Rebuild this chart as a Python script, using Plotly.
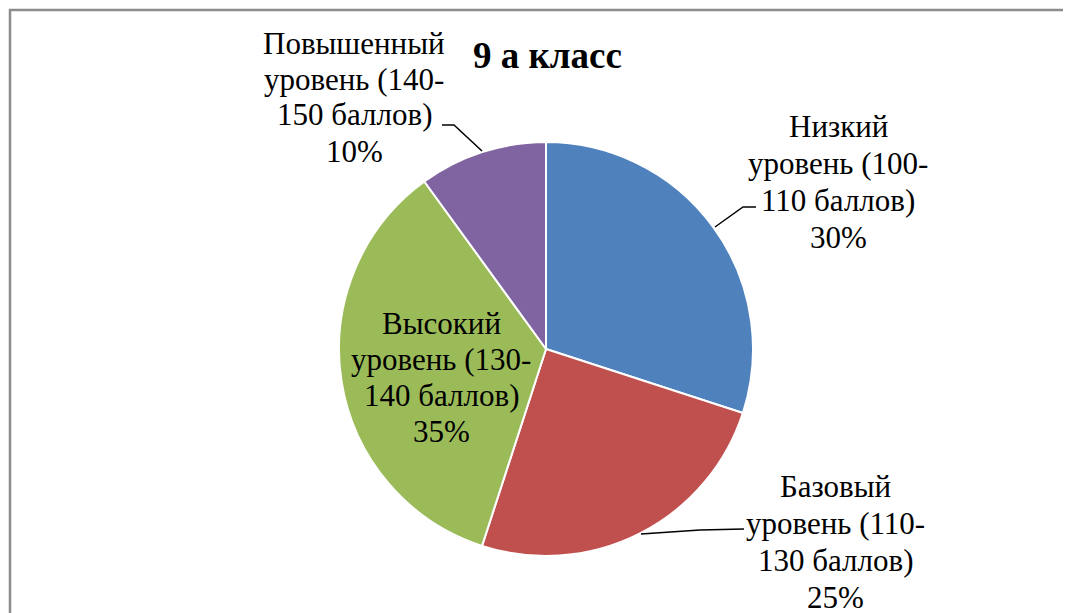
import plotly.graph_objects as go

# ---- data ----
categories = [
    "Низкий уровень (100-110 баллов)",
    "Базовый уровень (110-130 баллов)",
    "Высокий уровень (130-140 баллов)",
    "Повышенный уровень (140-150 баллов)",
]
values = [30, 25, 35, 10]
label_lines = [
    ["Низкий", "уровень (100-", "110 баллов)", "30%"],
    ["Базовый", "уровень (110-", "130 баллов)", "25%"],
    ["Высокий", "уровень (130-", "140 баллов)", "35%"],
    ["Повышенный", "уровень (140-", "150 баллов)", "10%"],
]
title_text = "9 а класс"
colors = ["#4F81BD", "#C0504D", "#9BBB59", "#8064A2"]

# ---- layout constants (screen pixels; page body has an 8px margin) ----
W, H = 1071, 613
OFF = 8
cx, cy, r = 546, 349, 207
label_pos = [(838, 126, 37.3), (835, 486, 37.0), (441, 323, 36.3), (354, 43, 36.0)]
leaders = [
    [(715, 227), (743, 207), (756, 207)],
    [(641, 534), (700, 530), (744, 529)],
    None,
    [(482, 151), (454, 125), (442, 125)],
]

def px(x):
    return (x - OFF) / W

def py(y):
    return 1 - (y - OFF) / H

fig = go.Figure()
fig.add_trace(go.Pie(
    labels=categories,
    values=values,
    sort=False,
    direction="clockwise",
    rotation=0,
    marker=dict(colors=colors, line=dict(color="white", width=2)),
    textinfo="none",
    hoverinfo="label+percent",
    showlegend=False,
    domain=dict(x=[px(cx - r), px(cx + r)], y=[py(cy + r), py(cy - r)]),
))

font_family = "Liberation Serif"
annotations = []
for lines, (x0, y0, gap) in zip(label_lines, label_pos):
    for i, t in enumerate(lines):
        annotations.append(dict(
            x=px(x0), y=py(y0 + i * gap), xref="paper", yref="paper",
            text=t, showarrow=False, xanchor="center", yanchor="middle",
            font=dict(family=font_family, size=31, color="black"),
        ))
annotations.append(dict(
    x=px(547), y=py(55), xref="paper", yref="paper",
    text="<b>" + title_text + "</b>", showarrow=False,
    xanchor="center", yanchor="middle",
    font=dict(family=font_family, size=37, color="black"),
))

shapes = []
for pts in leaders:
    if pts is None:
        continue
    path = "M " + " L ".join(f"{px(x):.5f},{py(y):.5f}" for x, y in pts)
    shapes.append(dict(type="path", path=path, xref="paper", yref="paper",
                       line=dict(color="black", width=1.5)))
# chart frame
shapes.append(dict(type="rect", xref="paper", yref="paper",
                   x0=px(10), x1=px(1090), y0=py(630), y1=py(10),
                   line=dict(color="#8c8c8c", width=2.5), fillcolor="rgba(0,0,0,0)"))

fig.update_layout(
    width=W, height=H,
    margin=dict(l=0, r=0, t=0, b=0),
    paper_bgcolor="white",
    plot_bgcolor="white",
    annotations=annotations,
    shapes=shapes,
)

fig.write_html("out.html")
